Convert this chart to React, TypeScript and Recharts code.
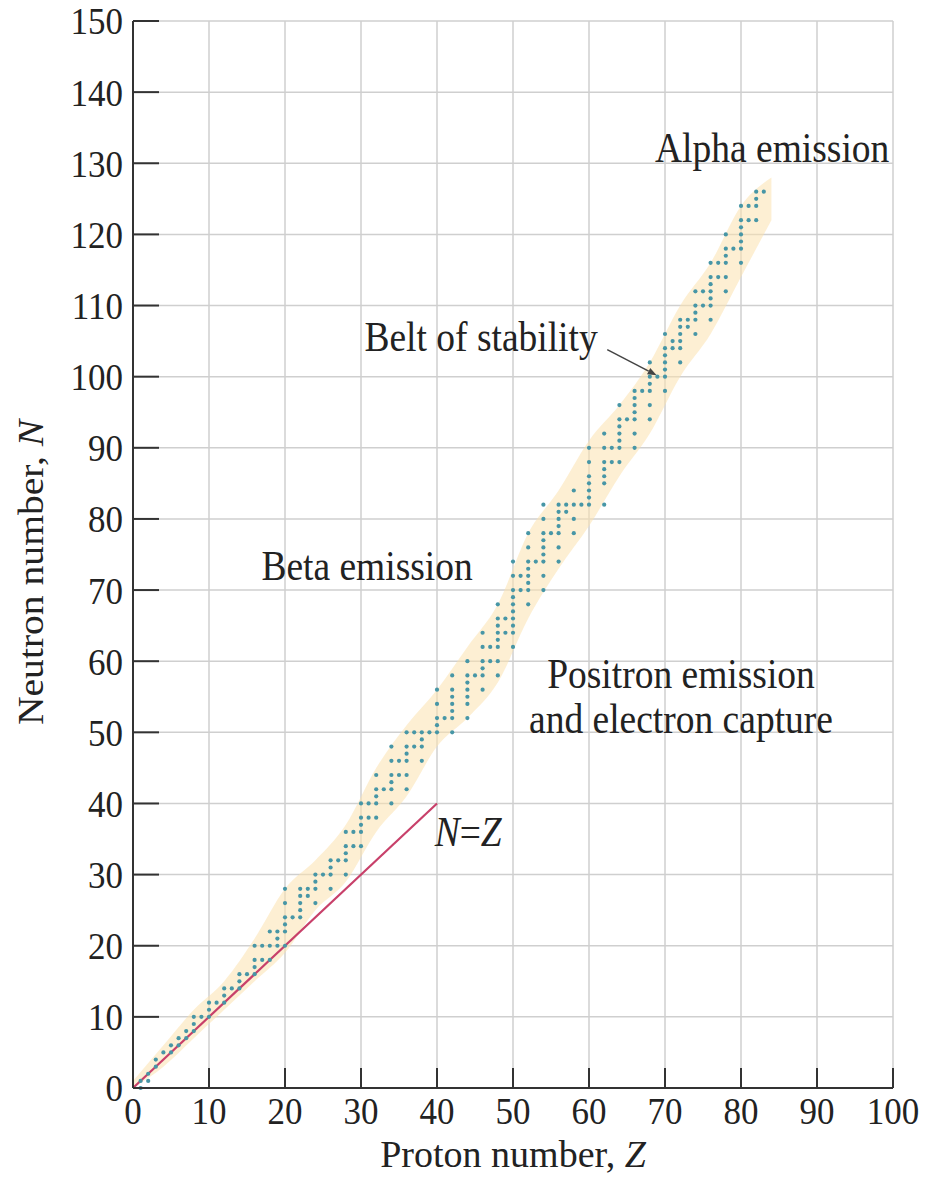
import {
  ComposedChart,
  Area,
  Line,
  Scatter,
  XAxis,
  YAxis,
  CartesianGrid,
  ReferenceDot,
  ReferenceLine,
  Label,
} from 'recharts'

// stable nuclides: neutron numbers N for each proton number Z
const stableN: [number, number[]][] = [
  [1, [0, 1]], [2, [1, 2]], [3, [3, 4]], [4, [5]], [5, [5, 6]], [6, [6, 7]],
  [7, [7, 8]], [8, [8, 9, 10]], [9, [10]], [10, [10, 11, 12]], [11, [12]],
  [12, [12, 13, 14]], [13, [14]], [14, [14, 15, 16]], [15, [16]],
  [16, [16, 17, 18, 20]], [17, [18, 20]], [18, [18, 20, 22]], [19, [20, 21, 22]],
  [20, [20, 22, 23, 24, 26, 28]], [21, [24]], [22, [24, 25, 26, 27, 28]],
  [23, [27, 28]], [24, [26, 28, 29, 30]], [25, [30]], [26, [28, 30, 31, 32]],
  [27, [32]], [28, [30, 32, 33, 34, 36]], [29, [34, 36]], [30, [34, 36, 37, 38, 40]],
  [31, [38, 40]], [32, [38, 40, 41, 42, 44]], [33, [42]], [34, [40, 42, 43, 44, 46, 48]],
  [35, [44, 46]], [36, [42, 44, 46, 47, 48, 50]], [37, [48, 50]], [38, [46, 48, 49, 50]],
  [39, [50]], [40, [50, 51, 52, 54, 56]], [41, [52]], [42, [50, 52, 53, 54, 55, 56, 58]],
  [44, [52, 54, 55, 56, 57, 58, 60]], [45, [58]], [46, [56, 58, 59, 60, 62, 64]],
  [47, [60, 62]], [48, [58, 60, 62, 63, 64, 65, 66, 68]], [49, [64, 66]],
  [50, [62, 64, 65, 66, 67, 68, 69, 70, 72, 74]], [51, [70, 72]],
  [52, [68, 70, 71, 72, 73, 74, 76, 78]], [53, [74]],
  [54, [70, 72, 74, 75, 76, 77, 78, 80, 82]], [55, [78]],
  [56, [74, 76, 78, 79, 80, 81, 82]], [57, [81, 82]], [58, [78, 80, 82, 84]],
  [59, [82]], [60, [82, 83, 84, 85, 86, 88, 90]], [62, [82, 85, 86, 87, 88, 90, 92]],
  [63, [88, 90]], [64, [88, 90, 91, 92, 93, 94, 96]], [65, [94]],
  [66, [90, 92, 94, 95, 96, 97, 98]], [67, [98]], [68, [94, 96, 98, 99, 100, 102]],
  [69, [100]], [70, [98, 100, 101, 102, 103, 104, 106]], [71, [104, 105]],
  [72, [102, 104, 105, 106, 107, 108]], [73, [107, 108]], [74, [106, 108, 109, 110, 112]],
  [75, [110, 112]], [76, [108, 110, 111, 112, 113, 114, 116]], [77, [114, 116]],
  [78, [112, 114, 116, 117, 118, 120]], [79, [118]],
  [80, [116, 118, 119, 120, 121, 122, 124]], [81, [122, 124]],
  [82, [122, 124, 125, 126]], [83, [126]],
]

// shaded belt of stability: lower / upper N at a given Z
const beltZ = [0, 4, 8, 12, 16, 20, 24, 28, 32, 36, 40, 44, 48, 52, 56, 60, 64, 68, 72, 76, 80, 84]
const beltLow = [0, 3, 7, 11, 15, 19, 25, 29, 36, 41, 48, 52, 57, 66, 73, 79, 86, 92, 100, 106, 114, 122]
const beltHigh = [1, 6, 11, 15, 21, 28, 32, 37, 45, 51, 56, 62, 68, 78, 84, 91, 96, 102, 110, 116, 124, 128]

const lineNZ = [{ z: 0, n: 0 }, { z: 40, n: 40 }]

const xTicks = [0, 10, 20, 30, 40, 50, 60, 70, 80, 90, 100]
const yTicks = [0, 10, 20, 30, 40, 50, 60, 70, 80, 90, 100, 110, 120, 130, 140, 150]

const nuclides = stableN.flatMap(([z, ns]) => ns.map((n) => ({ z, n })))
const belt = beltZ.map((z, i) => ({ z, lo: beltLow[i], hi: beltHigh[i] }))

const FONT = '"Liberation Serif", "Times New Roman", serif'
const INK = '#222'

// the original print is a little taller than wide, so text gets a slight vertical stretch
function Txt({ x, y, size = 35, anchor = 'middle', sy = 1.1, children }: any) {
  return (
    <text
      transform={`translate(${x} ${y}) scale(1 ${sy})`}
      dy="0.35em"
      textAnchor={anchor}
      fontFamily={FONT}
      fontSize={size}
      fill={INK}
    >
      {children}
    </text>
  )
}

function YTick({ x, y, payload }: any) {
  return (
    <g>
      <line x1={x} x2={x + 26} y1={y} y2={y} stroke="#333" strokeWidth={2} />
      <Txt x={x - 10} y={y} anchor="end">{payload.value}</Txt>
    </g>
  )
}

function XTick({ x, y, payload }: any) {
  return (
    <g>
      <line x1={x} x2={x} y1={y} y2={y - 20} stroke="#333" strokeWidth={2} />
      <Txt x={x} y={y + 23}>{payload.value}</Txt>
    </g>
  )
}

const note = (lines: React.ReactNode) => (p: any) => (
  <Txt x={p.cx} y={p.cy} size={37.5}>{lines}</Txt>
)

function Arrow(p: any) {
  const { x1, y1, x2, y2 } = p
  const a = Math.atan2(y2 - y1, x2 - x1)
  const h = 9
  const w = 3.5
  const bx = x2 - h * Math.cos(a)
  const by = y2 - h * Math.sin(a)
  const pts = `${x2},${y2} ${bx - w * Math.sin(a)},${by + w * Math.cos(a)} ${bx + w * Math.sin(a)},${by - w * Math.cos(a)}`
  return (
    <g>
      <line x1={x1} y1={y1} x2={bx} y2={by} stroke="#444" strokeWidth={1.5} />
      <polygon points={pts} fill="#444" />
    </g>
  )
}

export default function App() {
  return (
    <div style={{ margin: '-8px 0 0 -8px' }}>
      <ComposedChart
        width={927}
        height={1182}
        data={belt}
        margin={{ top: 21, right: 34, bottom: 54, left: 73 }}
      >
        <CartesianGrid stroke="#cfcfcf" strokeWidth={1.5} />
        <XAxis
          dataKey="z"
          type="number"
          domain={[0, 100]}
          ticks={xTicks}
          height={40}
          tickSize={0}
          tickMargin={0}
          tick={<XTick />}
          axisLine={{ stroke: '#333', strokeWidth: 2 }}
          tickLine={false}
        >
          <Label
            content={({ viewBox }: any) => (
              <Txt x={viewBox.x + viewBox.width / 2} y={viewBox.y + 66} size={38} sy={1}>
                Proton number, <tspan fontStyle="italic">Z</tspan>
              </Txt>
            )}
          />
        </XAxis>
        <YAxis
          type="number"
          domain={[0, 150]}
          ticks={yTicks}
          width={60}
          tickSize={0}
          tickMargin={0}
          tick={<YTick />}
          axisLine={{ stroke: '#333', strokeWidth: 2 }}
          tickLine={false}
        >
          <Label
            content={({ viewBox }: any) => {
              const cx = 30
              const cy = viewBox.y + viewBox.height / 2 + 18
              return (
                <text
                  transform={`translate(${cx} ${cy}) rotate(-90) scale(1.1 1)`}
                  dy="0.35em"
                  textAnchor="middle"
                  fontFamily={FONT}
                  fontSize={36}
                  fill={INK}
                >
                  Neutron number, <tspan fontStyle="italic">N</tspan>
                </text>
              )
            }}
          />
        </YAxis>
        <Area
          dataKey={(d: any) => [d.lo, d.hi]}
          type="monotone"
          fill="#fbe2ae"
          fillOpacity={0.55}
          stroke="none"
          isAnimationActive={false}
          activeDot={false}
        />
        <Line
          data={lineNZ}
          dataKey="n"
          type="linear"
          stroke="#c8406a"
          strokeWidth={2.2}
          dot={false}
          isAnimationActive={false}
        />
        <Scatter
          data={nuclides}
          dataKey="n"
          isAnimationActive={false}
          shape={(p: any) => <circle cx={p.cx} cy={p.cy} r={2.1} fill="#4796a6" />}
        />
        <ReferenceLine
          segment={[{ x: 62.4, y: 103.8 }, { x: 68.9, y: 100.2 }]}
          shape={<Arrow />}
        />
        <ReferenceDot x={84.1} y={132.2} r={1} shape={note('Alpha emission')} />
        <ReferenceDot x={45.8} y={105.6} r={1} shape={note('Belt of stability')} />
        <ReferenceDot x={30.8} y={73.4} r={1} shape={note('Beta emission')} />
        <ReferenceDot x={72.1} y={58.2} r={1} shape={note('Positron emission')} />
        <ReferenceDot x={72.1} y={51.9} r={1} shape={note('and electron capture')} />
        <ReferenceDot
          x={44.1}
          y={36.1}
          r={1}
          shape={note(
            <>
              <tspan fontStyle="italic">N</tspan>=<tspan fontStyle="italic">Z</tspan>
            </>
          )}
        />
      </ComposedChart>
    </div>
  )
}
